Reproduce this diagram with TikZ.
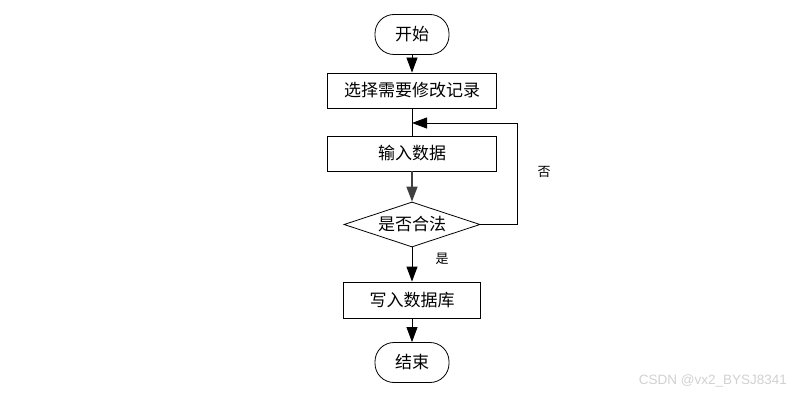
\documentclass[tikz,border=0pt]{standalone}
\usepackage{fontspec}
\setmainfont{Liberation Sans}
\newfontfamily\cjk{Noto Sans CJK SC}
\usetikzlibrary{arrows.meta,positioning,shapes.geometric}
\tikzset{term/.style={draw,rounded corners=19pt,minimum width=74pt,minimum height=40pt,
  inner sep=0pt,font=\cjk\fontsize{17}{17}\selectfont},
  stepbox/.style={draw,minimum height=35pt,inner sep=0pt,font=\cjk\fontsize{17}{17}\selectfont},
  decide/.style={draw,diamond,aspect=3,inner sep=0pt,minimum width=136pt,minimum height=45pt,
  font=\cjk\fontsize{17}{17}\selectfont},
  arrow/.style={-{Triangle[length=15pt,width=11pt]},draw=black},
  lbl/.style={font=\cjk\fontsize{13}{13}\selectfont}}
\begin{document}
\begin{tikzpicture}[x=1pt,y=-1pt,line width=0.8pt]
\useasboundingbox (0,0) rectangle (809,396);
\node[term] (start) at (412,34.5){开始};
\node[stepbox,minimum width=169pt] (sel) at (412,90.5){选择需要修改记录};
\node[stepbox,minimum width=169pt] (inp) at (412,153.5){输入数据};
\node[decide] (chk) at (412,224.5){是否合法};
\node[stepbox,minimum width=137pt,minimum height=36pt] (save) at (412,300){写入数据库};
\node[term] (stop) at (412,362.5){结束};
\coordinate (join) at (412,123);
\coordinate (loop) at (517,123);
\draw[arrow] (start)--(sel);
\draw (sel)--(inp);
\draw[arrow,draw=black!75,line width=1.5pt] (inp)--(chk);
\draw[arrow] (chk.east)-|(loop)--(join);
\draw[arrow] (chk)--(save);
\draw[arrow] (save)--(stop);
\node[lbl] (no) at (544,172){否};
\node[lbl] (yes) at (442,259){是};
\node[font=\fontsize{13.5}{13.5}\selectfont,text=black!18] (mark) at (713,381){CSDN @vx2\_BYSJ8341};
\end{tikzpicture}
\end{document}
